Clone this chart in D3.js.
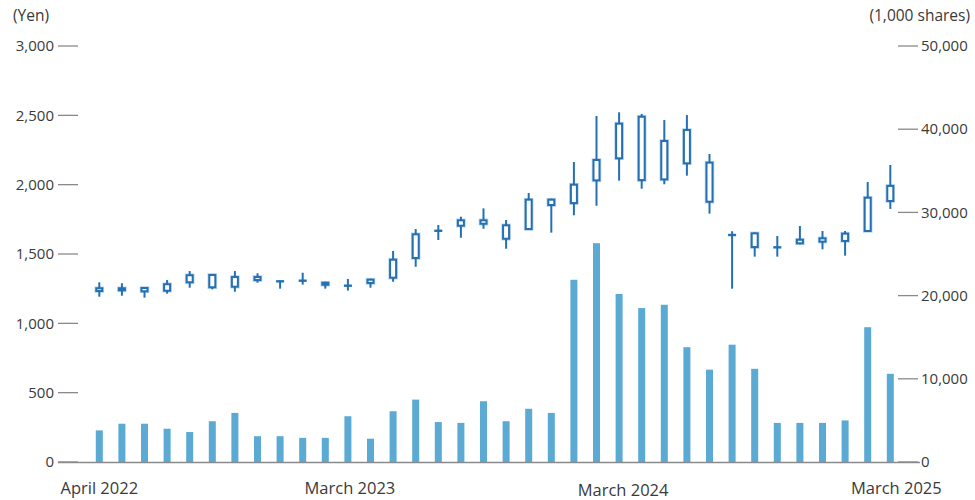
<!DOCTYPE html>
<html>
<head>
<meta charset="utf-8">
<script src="https://cdn.jsdelivr.net/npm/d3@7/dist/d3.min.js"></script>
<style>
  html, body { margin: 0; padding: 0; background: #fff; }
  svg { display: block; }
  text { font-family: "Open Sans", "Noto Sans", sans-serif; fill: #3a3a3a; }
</style>
</head>
<body>
<svg id="chart" width="975" height="500"></svg>
<script>
const months = ["2022-04","2022-05","2022-06","2022-07","2022-08","2022-09","2022-10","2022-11","2022-12",
  "2023-01","2023-02","2023-03","2023-04","2023-05","2023-06","2023-07","2023-08","2023-09","2023-10","2023-11","2023-12",
  "2024-01","2024-02","2024-03","2024-04","2024-05","2024-06","2024-07","2024-08","2024-09","2024-10","2024-11","2024-12",
  "2025-01","2025-02","2025-03"];

// Monthly stock price (yen): body upper / body lower / high / low
const bodyUpper = [1260,1260,1262,1289,1354,1356,1341,1341,1308,1312,1300,1276,1322,1466,1649,1671,1750,1750,1714,1899,1899,2007,2185,2447,2497,2322,2401,2166,1642,1656,1553,1610,1620,1654,1913,1998];
const bodyLower = [1226,1231,1224,1228,1289,1253,1257,1305,1298,1303,1271,1267,1284,1322,1464,1664,1697,1711,1603,1673,1846,1860,2024,2183,2026,2031,2147,1870,1632,1543,1543,1570,1582,1587,1659,1875];
const high      = [1296,1289,1262,1312,1377,1356,1377,1361,1308,1365,1300,1320,1322,1522,1680,1709,1769,1829,1745,1940,1899,2163,2495,2522,2510,2466,2502,2221,1664,1656,1630,1702,1666,1666,2019,2142];
const low       = [1192,1199,1185,1214,1257,1245,1228,1293,1250,1279,1250,1236,1257,1300,1408,1601,1617,1682,1538,1673,1654,1779,1848,2029,1971,2003,2065,1791,1250,1481,1481,1570,1534,1488,1659,1825];

// Monthly trading volume (1,000 shares)
const volume = [3800,4600,4600,4000,3600,4900,5900,3100,3100,2900,2900,5500,2800,6100,7500,4800,4700,7300,4900,6400,5900,21900,26300,20200,18500,18900,13800,11100,14100,11200,4700,4700,4700,5000,16200,10600];

const priceTicks = [0,500,1000,1500,2000,2500,3000];
const volumeTicks = [0,10000,20000,30000,40000,50000];
const xLabels = [
  {month:"2022-04", label:"April 2022"},
  {month:"2023-03", label:"March 2023"},
  {month:"2024-03", label:"March 2024"},
  {month:"2025-03", label:"March 2025"}
];

const svg = d3.select("#chart");
const plotTop = 46, plotBottom = 462;
const x = d3.scalePoint().domain(months).range([99.3, 890.3]);
const yP = d3.scaleLinear().domain([0, 3000]).range([plotBottom, plotTop]);
const yV = d3.scaleLinear().domain([0, 50000]).range([plotBottom, plotTop]);

const candleColor = "#2470b3";
const barColor = "#5aaad4";
const tickColor = "#8a8a8a";
const fmt = d3.format(",");

// Volume bars
svg.append("g").selectAll("rect").data(months).join("rect")
  .attr("x", d => x(d) - 3.5)
  .attr("width", 7)
  .attr("y", (d, i) => yV(volume[i]))
  .attr("height", (d, i) => yV(0) - yV(volume[i]))
  .attr("fill", barColor);

// Candles
const cg = svg.append("g");
months.forEach((m, i) => {
  const cx = x(m);
  cg.append("line")
    .attr("x1", cx).attr("x2", cx)
    .attr("y1", yP(high[i])).attr("y2", yP(low[i]))
    .attr("stroke", candleColor).attr("stroke-width", 2);
  const yt = yP(bodyUpper[i]), yb = yP(bodyLower[i]);
  const h = Math.max(yb - yt - 2, 0);
  if (h < 2) {
    cg.append("rect")
      .attr("x", cx - 4).attr("width", 8)
      .attr("y", (yt + yb) / 2 - 1.2).attr("height", 2.4)
      .attr("fill", candleColor);
  } else {
    cg.append("rect")
      .attr("x", cx - 3).attr("width", 6)
      .attr("y", yt + 1).attr("height", h)
      .attr("fill", "none").attr("stroke", candleColor).attr("stroke-opacity", 0.3).attr("stroke-width", 3.6);
    cg.append("rect")
      .attr("x", cx - 3).attr("width", 6)
      .attr("y", yt + 1).attr("height", h)
      .attr("fill", "#fff").attr("stroke", candleColor).attr("stroke-width", 2);
  }
});

// Baseline
svg.append("line")
  .attr("x1", 58).attr("x2", 920)
  .attr("y1", plotBottom + 0.5).attr("y2", plotBottom + 0.5)
  .attr("stroke", tickColor).attr("stroke-width", 1.5);

// Left axis
const la = svg.append("g");
priceTicks.forEach(t => {
  la.append("line").attr("x1", 58).attr("x2", 78)
    .attr("y1", yP(t)).attr("y2", yP(t))
    .attr("stroke", tickColor).attr("stroke-width", 1.3);
  la.append("text").attr("x", 54).attr("y", yP(t)).attr("dy", "0.35em")
    .attr("text-anchor", "end").attr("font-size", 15).text(fmt(t));
});
svg.append("text").attr("x", 13).attr("y", 16).attr("dy", "0.35em")
  .attr("font-size", 15.5).text("(Yen)");

// Right axis
const ra = svg.append("g");
volumeTicks.forEach(t => {
  ra.append("line").attr("x1", 898).attr("x2", 918)
    .attr("y1", yV(t)).attr("y2", yV(t))
    .attr("stroke", tickColor).attr("stroke-width", 1.3);
  ra.append("text").attr("x", 921).attr("y", yV(t)).attr("dy", "0.35em")
    .attr("text-anchor", "start").attr("font-size", 15).text(fmt(t));
});
svg.append("text").attr("x", 970).attr("y", 16).attr("dy", "0.35em")
  .attr("text-anchor", "end").attr("font-size", 15.5).text("(1,000 shares)");

// X labels
svg.append("g").selectAll("text").data(xLabels).join("text")
  .attr("x", (d, i) => x(d.month) + i * 2)
  .attr("y", (d, i) => i === 2 ? 490 : 488).attr("dy", "0.35em")
  .attr("text-anchor", "middle").attr("font-size", 16.5)
  .text(d => d.label);
</script>
</body>
</html>
